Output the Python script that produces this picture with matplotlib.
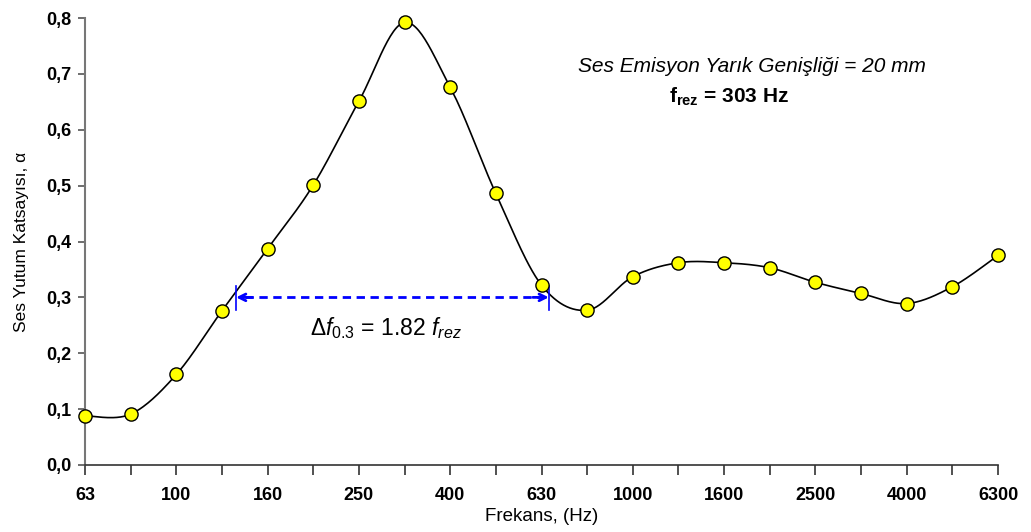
import numpy as np
import matplotlib
matplotlib.use("Agg")
import matplotlib.pyplot as plt

plt.rcParams['font.family'] = ['Liberation Sans', 'DejaVu Sans']
plt.rcParams['mathtext.fontset'] = 'custom'
plt.rcParams['mathtext.rm'] = 'Liberation Sans'
plt.rcParams['mathtext.it'] = 'Liberation Sans:italic'
plt.rcParams['mathtext.bf'] = 'Liberation Sans:bold'

# 1/3 octave band centre frequencies (Hz)
freqs = [63, 80, 100, 125, 160, 200, 250, 315, 400, 500, 630,
         800, 1000, 1250, 1600, 2000, 2500, 3150, 4000, 5000, 6300]
# sound absorption coefficient
alpha = [0.088, 0.091, 0.162, 0.276, 0.387, 0.501, 0.651, 0.792, 0.676, 0.486, 0.322,
         0.277, 0.337, 0.362, 0.362, 0.353, 0.327, 0.307, 0.289, 0.319, 0.375]
tick_labels = ['63', '', '100', '', '160', '', '250', '', '400', '', '630',
               '', '1000', '', '1600', '', '2500', '', '4000', '', '6300']

# bandwidth marker at alpha = 0.3 (band index positions)
band_lo, band_hi, band_level = 3.31, 10.16, 0.3


def smooth(x, y, n=30):
    # Catmull-Rom style curve like a spreadsheet "smoothed line"
    x = np.asarray(x, float)
    y = np.asarray(y, float)
    px = np.concatenate([[x[0]], x, [x[-1]]])
    py = np.concatenate([[y[0]], y, [y[-1]]])
    xs, ys = [], []
    t = np.linspace(0, 1, n)
    for i in range(1, len(px) - 2):
        p0 = np.array([px[i], py[i]])
        p3 = np.array([px[i + 1], py[i + 1]])
        p1 = p0 + (np.array([px[i + 1], py[i + 1]]) - np.array([px[i - 1], py[i - 1]])) / 6
        p2 = p3 - (np.array([px[i + 2], py[i + 2]]) - np.array([px[i], py[i]])) / 6
        b = ((1 - t) ** 3)[:, None] * p0 + (3 * (1 - t) ** 2 * t)[:, None] * p1 \
            + (3 * (1 - t) * t ** 2)[:, None] * p2 + (t ** 3)[:, None] * p3
        xs.extend(b[:, 0])
        ys.extend(b[:, 1])
    return np.array(xs), np.array(ys)


idx = np.arange(len(freqs))

fig = plt.figure(figsize=(10.31, 5.32), dpi=100)
ax = fig.add_axes([85 / 1031, 67 / 532, 913 / 1031, 447 / 532])

sx, sy = smooth(idx, alpha)
ax.plot(sx, sy, color='black', lw=1.2, zorder=2, clip_on=False)
ax.plot(idx, alpha, 'o', ms=9.5, mfc='#ffff00', mec='black', mew=1.0, zorder=3, clip_on=False)

# bandwidth arrow
ax.plot([band_lo + 0.2, band_hi - 0.2], [band_level, band_level], color='blue', lw=2,
        ls=(0, (3, 2)), zorder=2)
for a, b in [(band_lo, band_lo + 0.35), (band_hi, band_hi - 0.35)]:
    ax.annotate('', xy=(a, band_level), xytext=(b, band_level),
                arrowprops=dict(arrowstyle='->', color='blue', lw=2, mutation_scale=12,
                                shrinkA=0, shrinkB=0))
    ax.plot([a, a], [band_level - 0.022, band_level + 0.02], color='blue', lw=1.2)

ax.text(6.6, 0.245, r'$\Delta f_{\mathit{0.3}}$ = 1.82 $f_{rez}$', fontsize=16.5,
        ha='center', va='center')
ax.text(14.6, 0.713, 'Ses Emisyon Yarık Genişliği = 20 mm', fontsize=15,
        style='italic', ha='center', va='center')
ax.text(14.1, 0.658, r'$\mathbf{f_{rez}}$ = 303 Hz', fontsize=15,
        fontweight='bold', ha='center', va='center')

ax.set_xlim(0, len(freqs) - 1)
ax.set_ylim(0, 0.8)
ax.set_xticks(idx)
ax.set_xticklabels(tick_labels, fontsize=13, fontweight='bold')
ax.set_yticks(np.arange(0, 0.81, 0.1))
ax.set_yticklabels([f'{v:.1f}'.replace('.', ',') for v in np.arange(0, 0.81, 0.1)],
                   fontsize=13, fontweight='bold')
ax.tick_params(axis='x', direction='out', length=7, width=1.2, color='#333333', pad=9)
ax.tick_params(axis='y', direction='out', length=5, width=1.2, color='#555555', pad=5)

for s in ['top', 'right']:
    ax.spines[s].set_visible(False)
ax.spines['left'].set_color('#777777')
ax.spines['left'].set_linewidth(1.5)
ax.spines['bottom'].set_color('#333333')
ax.spines['bottom'].set_linewidth(1.2)

ax.set_xlabel('Frekans, (Hz)', fontsize=13.5, labelpad=3)
ax.set_ylabel('Ses Yutum Katsayısı, α', fontsize=12.5, labelpad=12)

fig.savefig('out.png', dpi=100)
